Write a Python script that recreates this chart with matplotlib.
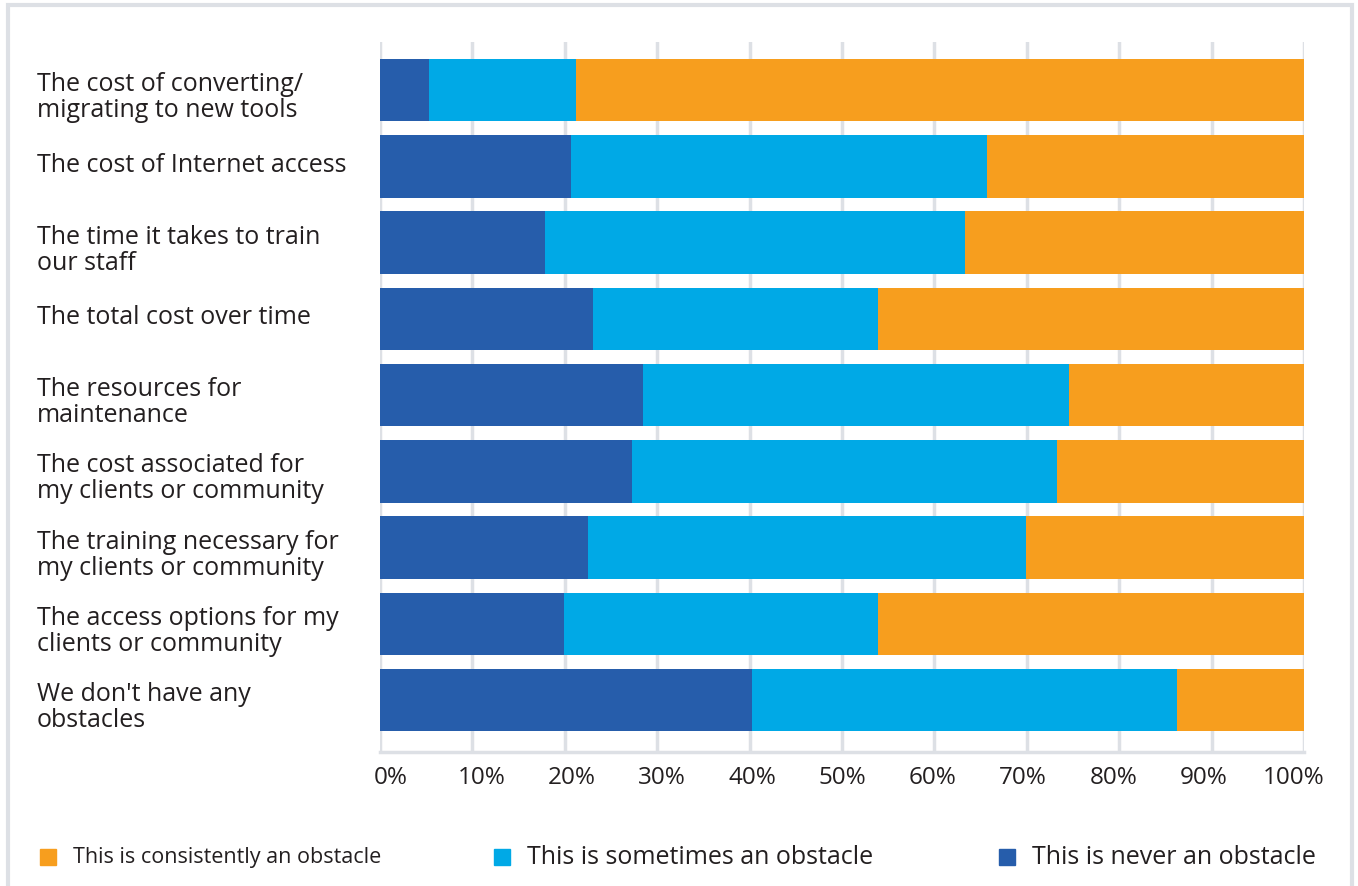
import matplotlib
matplotlib.use("Agg")
import matplotlib.pyplot as plt
import matplotlib.transforms as mtransforms
from matplotlib.patches import Rectangle
import numpy as np

plt.rcParams['font.family'] = ['Open Sans', 'DejaVu Sans']

categories = [
    "The cost of converting/\nmigrating to new tools",
    "The cost of Internet access",
    "The time it takes to train\nour staff",
    "The total cost over time",
    "The resources for\nmaintenance",
    "The cost associated for\nmy clients or community",
    "The training necessary for\nmy clients or community",
    "The access options for my\nclients or community",
    "We don't have any\nobstacles",
]
never = [5.3, 20.7, 17.9, 23.1, 28.5, 27.3, 22.5, 19.9, 40.3]
sometimes = [15.9, 45.0, 45.4, 30.8, 46.1, 46.0, 47.4, 34.0, 46.0]
consistently = [100 - a - b for a, b in zip(never, sometimes)]
ticks = [0, 10, 20, 30, 40, 50, 60, 70, 80, 90, 100]
tick_labels = [f"{t}%" for t in ticks]

c_never = "#265DAB"
c_some = "#00A9E6"
c_cons = "#F79E1E"
grid_c = "#DDE0E5"
txt_c = "#231F20"

W, H = 1358, 886
fig = plt.figure(figsize=(W / 100, H / 100), dpi=100)
ax = fig.add_axes([380 / W, 1 - 752 / H, (1304 - 380) / W, (752 - 42) / H])

y = np.arange(len(categories))
h = 0.82
ax.barh(y, never, height=h, color=c_never, zorder=3)
ax.barh(y, sometimes, left=never, height=h, color=c_some, zorder=3)
left2 = [a + b for a, b in zip(never, sometimes)]
ax.barh(y, consistently, left=left2, height=h, color=c_cons, zorder=3)

ax.set_xlim(0, 100)
ax.set_ylim(len(categories) - 1 + 0.68, -0.63)
ax.set_xticks(ticks)
ax.set_xticklabels(tick_labels, fontsize=17.5, color=txt_c)
ax.set_yticks(y)
ax.set_yticklabels(categories, fontsize=18, color=txt_c, ha="left", linespacing=1.05)
ax.tick_params(axis="y", length=0, pad=(380 - 37) * 0.72)
ax.tick_params(axis="x", length=0, pad=10)
ax.grid(axis="x", color=grid_c, linewidth=2.5, zorder=0)
for s in ["top", "right", "left"]:
    ax.spines[s].set_visible(False)
ax.spines["bottom"].set_color(grid_c)
ax.spines["bottom"].set_linewidth(2.5)

# tick labels in the reference are spread slightly inward of the gridlines
n = len(ticks)
for i, lab in enumerate(ax.get_xticklabels()):
    dx = (11 - 21 * i / (n - 1)) / 100.0
    lab.set_transform(lab.get_transform() + mtransforms.ScaledTranslation(dx, 0, fig.dpi_scale_trans))
# two-line category labels sit a little lower, single-line a little higher
for lab, cat in zip(ax.get_yticklabels(), categories):
    dy = -0.04 if "\n" in cat else 0.04
    lab.set_transform(lab.get_transform() + mtransforms.ScaledTranslation(0, dy, fig.dpi_scale_trans))

# frame around the figure
fig.patches.append(Rectangle((8 / W, -0.01), (1352 - 8) / W, 1 - 5 / H + 0.01,
                             transform=fig.transFigure, fill=False,
                             edgecolor=grid_c, linewidth=3))

# legend
leg_labels = ["This is consistently an obstacle", "This is sometimes an obstacle", "This is never an obstacle"]
leg_colors = [c_cons, c_some, c_never]
leg_x = [40, 494, 999]
leg_sizes = [15.5, 18, 18]
yc = 1 - 857 / H
for lab, col, x0, fs in zip(leg_labels, leg_colors, leg_x, leg_sizes):
    fig.patches.append(Rectangle((x0 / W, yc - 8 / H), 16 / W, 16 / H,
                                 transform=fig.transFigure, color=col))
    fig.text((x0 + 33) / W, yc, lab, fontsize=fs, va="center", ha="left", color=txt_c)

fig.savefig("out.png", dpi=100)
